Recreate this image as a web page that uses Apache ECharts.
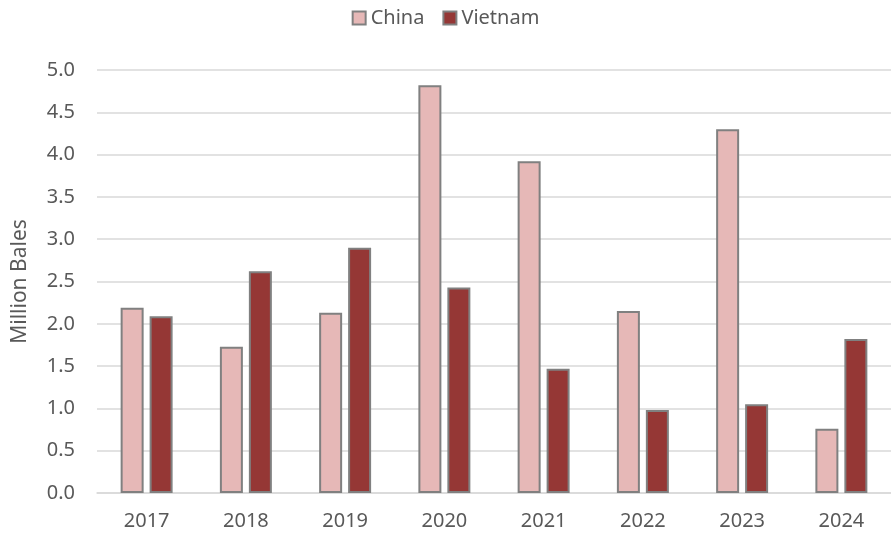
<!DOCTYPE html>
<html><head><meta charset="utf-8">
<script src="https://cdn.jsdelivr.net/npm/echarts@6/dist/echarts.min.js"></script>
<style>html,body{margin:0;padding:0;background:#fff}#c{width:891px;height:535px}</style>
</head><body><div id="c"></div>
<script>
const categories = ['2017','2018','2019','2020','2021','2022','2023','2024'];
const china = [2.19, 1.73, 2.13, 4.82, 3.92, 2.15, 4.30, 0.76];
const vietnam = [2.09, 2.62, 2.90, 2.43, 1.47, 0.98, 1.05, 1.82];
const yTicks = [0, 0.5, 1.0, 1.5, 2.0, 2.5, 3.0, 3.5, 4.0, 4.5, 5.0];

const font = 'Noto Sans';
const chart = echarts.init(document.getElementById('c'));
chart.setOption({
  animation: false,
  textStyle: { fontFamily: font },
  legend: {
    top: 3, left: 'center', icon: 'rect', itemWidth: 13, itemHeight: 13, itemGap: 18,
    textStyle: { fontSize: 20, color: '#595959', fontFamily: font },
    data: ['China', 'Vietnam']
  },
  grid: { left: 97, width: 803, top: 70, bottom: 42 },
  xAxis: {
    type: 'category', data: categories,
    axisLine: { lineStyle: { color: '#D9D9D9', width: 1.5 } },
    axisTick: { show: false },
    axisLabel: { fontSize: 20, color: '#595959', margin: 18 }
  },
  yAxis: {
    type: 'value', min: yTicks[0], max: yTicks[yTicks.length - 1], interval: 0.5,
    name: 'Million Bales', nameLocation: 'middle', nameGap: 66,
    nameTextStyle: { fontSize: 21, color: '#595959' },
    axisLine: { show: false }, axisTick: { show: false },
    axisLabel: { fontSize: 20, color: '#595959', margin: 22, formatter: v => v.toFixed(1) },
    splitLine: { lineStyle: { color: '#D9D9D9', width: 1.5 } }
  },
  series: [
    { name: 'China', type: 'bar', data: china, barWidth: 23, barGap: '26%',
      itemStyle: { color: '#E6B8B7', borderColor: '#808080', borderWidth: 2 } },
    { name: 'Vietnam', type: 'bar', data: vietnam, barWidth: 23,
      itemStyle: { color: '#953735', borderColor: '#808080', borderWidth: 2 } }
  ]
});
</script></body></html>
